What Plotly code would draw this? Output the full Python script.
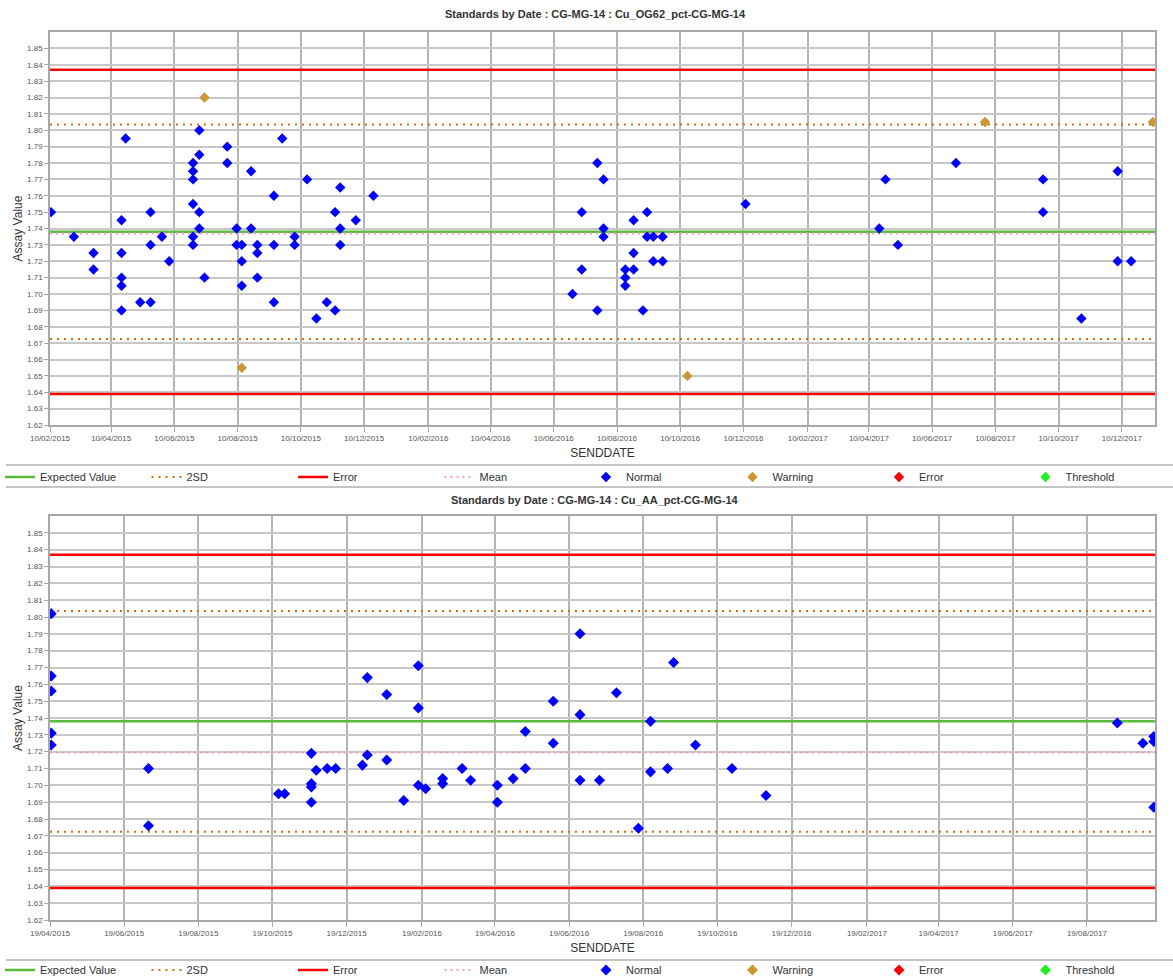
import plotly.graph_objects as go

# ---------------- data : top chart (Cu_OG62) ----------------
TOP_TITLE = "Standards by Date : CG-MG-14 : Cu_OG62_pct-CG-MG-14"
top_normal_dates = [
    "2015-02-11", "2015-03-05", "2015-03-24", "2015-03-24",
    "2015-04-20", "2015-04-20", "2015-04-20", "2015-04-20", "2015-04-20",
    "2015-04-24", "2015-05-08", "2015-05-18", "2015-05-18", "2015-05-18",
    "2015-05-29", "2015-06-05",
    "2015-06-28", "2015-06-28", "2015-06-28", "2015-06-28", "2015-06-28", "2015-06-28",
    "2015-07-04", "2015-07-04", "2015-07-04", "2015-07-04",
    "2015-07-09", "2015-07-31", "2015-07-31", "2015-08-09", "2015-08-09",
    "2015-08-14", "2015-08-14", "2015-08-14", "2015-08-23", "2015-08-23",
    "2015-08-29", "2015-08-29", "2015-08-29",
    "2015-09-14", "2015-09-14", "2015-09-14", "2015-09-22",
    "2015-10-04", "2015-10-04", "2015-10-16", "2015-10-25", "2015-11-04",
    "2015-11-12", "2015-11-12", "2015-11-17", "2015-11-17", "2015-11-17",
    "2015-12-02", "2015-12-19",
    "2016-06-28", "2016-07-07", "2016-07-07", "2016-07-22", "2016-07-22",
    "2016-07-28", "2016-07-28", "2016-07-28",
    "2016-08-18", "2016-08-18", "2016-08-18", "2016-08-26", "2016-08-26", "2016-08-26",
    "2016-09-04", "2016-09-08", "2016-09-08", "2016-09-14", "2016-09-14",
    "2016-09-23", "2016-09-23", "2016-12-12",
    "2017-04-20", "2017-04-26", "2017-05-08", "2017-07-03",
    "2017-09-25", "2017-09-25", "2017-11-01", "2017-12-06", "2017-12-06", "2017-12-19",
]
top_normal_values = [
    1.750, 1.735, 1.725, 1.715,
    1.745, 1.725, 1.710, 1.705, 1.690,
    1.795, 1.695, 1.750, 1.730, 1.695,
    1.735, 1.720,
    1.780, 1.775, 1.770, 1.755, 1.735, 1.730,
    1.800, 1.785, 1.750, 1.740,
    1.710, 1.790, 1.780, 1.740, 1.730,
    1.730, 1.720, 1.705, 1.775, 1.740,
    1.730, 1.725, 1.710,
    1.760, 1.730, 1.695, 1.795,
    1.735, 1.730, 1.770, 1.685, 1.695,
    1.750, 1.690, 1.765, 1.740, 1.730,
    1.745, 1.760,
    1.700, 1.750, 1.715, 1.780, 1.690,
    1.770, 1.740, 1.735,
    1.715, 1.710, 1.705, 1.745, 1.725, 1.715,
    1.690, 1.750, 1.735, 1.735, 1.720,
    1.735, 1.720, 1.755,
    1.740, 1.770, 1.730, 1.780,
    1.770, 1.750, 1.685, 1.775, 1.720, 1.720,
]
top_warning_dates = ["2015-07-09", "2015-08-14", "2016-10-17", "2017-07-31", "2018-01-09"]
top_warning_values = [1.820, 1.655, 1.650, 1.805, 1.805]
top_expected = 1.738
top_2sd = [1.8035, 1.6725]
top_error = [1.837, 1.639]
top_mean = 1.737
top_x_range = ["2015-02-10", "2018-01-11"]
top_tick0 = "2015-02-10"

# ---------------- data : bottom chart (Cu_AA) ----------------
BOT_TITLE = "Standards by Date : CG-MG-14 : Cu_AA_pct-CG-MG-14"
bot_normal_dates = [
    "2015-04-20", "2015-04-20", "2015-04-20", "2015-04-20", "2015-04-20",
    "2015-07-09", "2015-07-09",
    "2015-10-24", "2015-10-29",
    "2015-11-20", "2015-11-20", "2015-11-20", "2015-11-20",
    "2015-11-24", "2015-12-03", "2015-12-10", "2016-01-01",
    "2016-01-05", "2016-01-05", "2016-01-21", "2016-01-21",
    "2016-02-04", "2016-02-16", "2016-02-16", "2016-02-16", "2016-02-22",
    "2016-03-07", "2016-03-07", "2016-03-23", "2016-03-30",
    "2016-04-21", "2016-04-21", "2016-05-04", "2016-05-14", "2016-05-14",
    "2016-06-06", "2016-06-06", "2016-06-28", "2016-06-28", "2016-06-28",
    "2016-07-14", "2016-07-28", "2016-08-15", "2016-08-25", "2016-08-25",
    "2016-09-08", "2016-09-13", "2016-10-01", "2016-10-31", "2016-11-28",
    "2017-09-13", "2017-10-04", "2017-10-13", "2017-10-13", "2017-10-13",
]
bot_normal_values = [
    1.802, 1.765, 1.756, 1.731, 1.724,
    1.710, 1.676,
    1.695, 1.695,
    1.719, 1.701, 1.699, 1.690,
    1.709, 1.710, 1.710, 1.712,
    1.718, 1.764, 1.715, 1.754,
    1.691, 1.700, 1.746, 1.771, 1.698,
    1.704, 1.701, 1.710, 1.703,
    1.700, 1.690, 1.704, 1.710, 1.732,
    1.750, 1.725, 1.790, 1.742, 1.703,
    1.703, 1.755, 1.6745, 1.738, 1.708,
    1.710, 1.773, 1.724, 1.710, 1.694,
    1.737, 1.725, 1.729, 1.726, 1.687,
]
bot_expected = 1.738
bot_2sd = [1.8035, 1.6725]
bot_error = [1.837, 1.639]
bot_mean = 1.7195
bot_x_range = ["2015-04-19", "2017-10-14"]
bot_tick0 = "2015-04-19"

Y_TICKS = [1.62, 1.63, 1.64, 1.65, 1.66, 1.67, 1.68, 1.69, 1.70, 1.71, 1.72, 1.73,
           1.74, 1.75, 1.76, 1.77, 1.78, 1.79, 1.80, 1.81, 1.82, 1.83, 1.84, 1.85]
Y_RANGE = [1.62, 1.86]
X_TITLE = "SENDDATE"
Y_TITLE = "Assay Value"

# ---------------- layout helpers ----------------
W, H = 1173, 977


def px_x(px):
    return px / W


def px_y(py):
    return (H - py) / H


FONT = "Liberation Sans, Arial, sans-serif"
C_EXP = "#5cbb3c"
C_2SD = "#d2700f"
C_ERR = "#ff0000"
C_MEAN = "#ff99cc"
C_NORM = "#0000ff"
C_WARN = "#cc9633"
C_THR = "#22ee22"

fig = go.Figure()


def add_chart(xa, ya, leg, xr, expected, sd2, err, mean, nd, nv, wd, wv, msize):
    def hline(vals):
        xs, ys = [], []
        for v in vals:
            xs += [xr[0], xr[1], None]
            ys += [v, v, None]
        return xs[:-1], ys[:-1]

    x, y = hline([expected])
    fig.add_trace(go.Scatter(x=x, y=y, mode="lines", name="Expected Value",
                             line=dict(color=C_EXP, width=2.5), xaxis=xa, yaxis=ya,
                             legend=leg, hoverinfo="skip"))
    x, y = hline(sd2)
    fig.add_trace(go.Scatter(x=x, y=y, mode="lines", name="2SD",
                             line=dict(color=C_2SD, width=2, dash="2px,5px"), xaxis=xa, yaxis=ya,
                             legend=leg, hoverinfo="skip"))
    x, y = hline(err)
    fig.add_trace(go.Scatter(x=x, y=y, mode="lines", name="Error",
                             line=dict(color=C_ERR, width=2.5), xaxis=xa, yaxis=ya,
                             legend=leg, hoverinfo="skip"))
    x, y = hline([mean])
    fig.add_trace(go.Scatter(x=x, y=y, mode="lines", name="Mean",
                             line=dict(color=C_MEAN, width=2, dash="2px,4px"), xaxis=xa, yaxis=ya,
                             legend=leg, hoverinfo="skip"))
    fig.add_trace(go.Scatter(x=nd, y=nv, mode="markers", name="Normal",
                             marker=dict(symbol="diamond", color=C_NORM, size=msize),
                             xaxis=xa, yaxis=ya, legend=leg))
    fig.add_trace(go.Scatter(x=wd if wd else [None], y=wv if wv else [None], mode="markers",
                             name="Warning",
                             marker=dict(symbol="diamond", color=C_WARN, size=msize),
                             xaxis=xa, yaxis=ya, legend=leg))
    fig.add_trace(go.Scatter(x=[None], y=[None], mode="markers", name="Error",
                             marker=dict(symbol="diamond", color=C_ERR, size=msize),
                             xaxis=xa, yaxis=ya, legend=leg))
    fig.add_trace(go.Scatter(x=[None], y=[None], mode="markers", name="Threshold",
                             marker=dict(symbol="diamond", color=C_THR, size=msize),
                             xaxis=xa, yaxis=ya, legend=leg))


add_chart("x", "y", "legend", top_x_range, top_expected, top_2sd, top_error, top_mean,
          top_normal_dates, top_normal_values, top_warning_dates, top_warning_values, 8)
add_chart("x2", "y2", "legend2", bot_x_range, bot_expected, bot_2sd, bot_error, bot_mean,
          bot_normal_dates, bot_normal_values, [], [], 8.5)

x_dom = [px_x(50), px_x(1155)]
top_dom = [px_y(425), px_y(32)]
bot_dom = [px_y(920), px_y(516)]

xcommon = dict(type="date", dtick="M2", tickformat="%d/%m/%Y",
               showgrid=True, gridcolor="#b4b4b4", gridwidth=1.5,
               showline=True, linecolor="#a8a8a8", linewidth=1.5, mirror=True,
               ticks="outside", ticklen=5, tickcolor="#a8a8a8",
               tickfont=dict(family=FONT, size=8, color="#555555"),
               zeroline=False, fixedrange=True, domain=x_dom,
               title=dict(text=X_TITLE, font=dict(family=FONT, size=12, color="#333333"), standoff=6))
ycommon = dict(range=Y_RANGE, tickvals=Y_TICKS, tickformat=".2f",
               showgrid=True, gridcolor="#c8c8c8", gridwidth=1.5,
               showline=True, linecolor="#a8a8a8", linewidth=1.5, mirror=True,
               ticks="outside", ticklen=4, tickcolor="#a8a8a8",
               tickfont=dict(family=FONT, size=8, color="#555555"),
               zeroline=False, fixedrange=True,
               title=dict(text=Y_TITLE, font=dict(family=FONT, size=12, color="#333333"), standoff=2))

legcommon = dict(orientation="h", xanchor="left", yanchor="middle",
                 entrywidth=101.5, entrywidthmode="pixels",
                 font=dict(family=FONT, size=11, color="#333333"),
                 bgcolor="rgba(0,0,0,0)", borderwidth=0, itemclick=False,
                 itemdoubleclick=False, tracegroupgap=0)

fig.update_layout(
    width=W, height=H,
    margin=dict(l=0, r=0, t=0, b=0, autoexpand=False),
    paper_bgcolor="white", plot_bgcolor="white",
    showlegend=True,
    xaxis=dict(xcommon, range=top_x_range, tick0=top_tick0, anchor="y"),
    yaxis=dict(ycommon, anchor="x", domain=top_dom),
    xaxis2=dict(xcommon, range=bot_x_range, tick0=bot_tick0, anchor="y2"),
    yaxis2=dict(ycommon, anchor="x2", domain=bot_dom),
    legend=dict(legcommon, x=0, y=px_y(477)),
    legend2=dict(legcommon, x=0, y=px_y(970)),
    annotations=[
        dict(text="<b>" + TOP_TITLE + "</b>", xref="paper", yref="paper",
             x=px_x(595), y=px_y(14), showarrow=False, xanchor="center", yanchor="middle",
             font=dict(family=FONT, size=11, color="#333333")),
        dict(text="<b>" + BOT_TITLE + "</b>", xref="paper", yref="paper",
             x=px_x(595), y=px_y(500), showarrow=False, xanchor="center", yanchor="middle",
             font=dict(family=FONT, size=11, color="#333333")),
    ],
    shapes=[
        dict(type="line", xref="paper", yref="paper", x0=px_x(6), x1=1,
             y0=px_y(465), y1=px_y(465), line=dict(color="#c4c4c4", width=2)),
        dict(type="line", xref="paper", yref="paper", x0=px_x(6), x1=1,
             y0=px_y(487), y1=px_y(487), line=dict(color="#c4c4c4", width=2)),
        dict(type="line", xref="paper", yref="paper", x0=px_x(6), x1=1,
             y0=px_y(960), y1=px_y(960), line=dict(color="#c4c4c4", width=2)),
    ],
)

fig.write_html("out.html", config={"displayModeBar": False})
